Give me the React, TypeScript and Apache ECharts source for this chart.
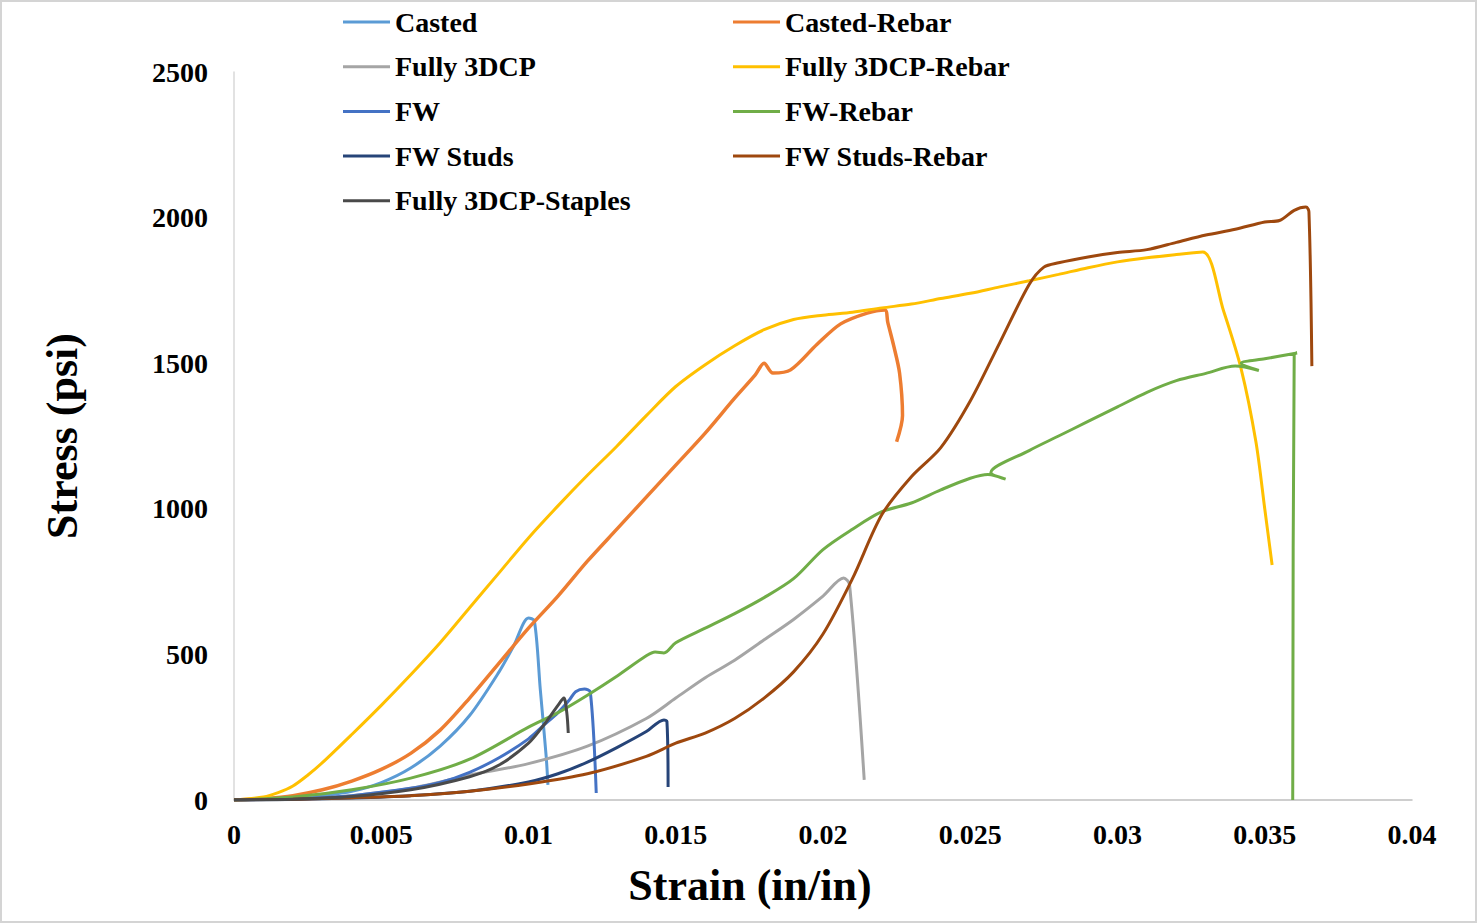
import React, { useEffect, useRef } from "react";
import * as echarts from "echarts";

const seriesNames = [
  "Casted",
  "Casted-Rebar",
  "Fully 3DCP",
  "Fully 3DCP-Rebar",
  "FW",
  "FW-Rebar",
  "FW Studs",
  "FW Studs-Rebar",
  "Fully 3DCP-Staples",
];

const colors = ["#5B9BD5", "#ED7D31", "#A5A5A5", "#FFC000", "#4472C4", "#70AD47", "#264478", "#9E480E", "#4A4A4A"];

const xTicks = [0, 0.005, 0.01, 0.015, 0.02, 0.025, 0.03, 0.035, 0.04];
const yTicks = [0, 500, 1000, 1500, 2000, 2500];

const casted = [
  [0, 0], [0.002, 5], [0.003, 15], [0.004, 30], [0.005, 60], [0.006, 110], [0.007, 185],
  [0.008, 290], [0.009, 440], [0.0095, 530], [0.01, 625], [0.0102, 615], [0.0104, 380],
  [0.0106, 150], [0.01066, 52],
];

const castedRebar = [
  [0, 0], [0.001, 5], [0.002, 15], [0.003, 35], [0.004, 65], [0.005, 105], [0.006, 160],
  [0.007, 240], [0.008, 350], [0.009, 470], [0.01, 590], [0.011, 700], [0.012, 820],
  [0.013, 930], [0.014, 1040], [0.015, 1150], [0.016, 1260], [0.017, 1380], [0.0177, 1460],
  [0.018, 1500], [0.0183, 1466], [0.0189, 1477], [0.0198, 1565], [0.0206, 1635],
  [0.0215, 1672], [0.0221, 1683], [0.0222, 1640], [0.0224, 1560], [0.0226, 1466],
  [0.0227, 1320], [0.0225, 1230],
];

const fully3dcp = [
  [0, 0], [0.002, 3], [0.004, 15], [0.006, 40], [0.008, 85], [0.01, 125], [0.012, 185],
  [0.014, 280], [0.015, 350], [0.016, 420], [0.017, 480], [0.018, 550], [0.019, 620],
  [0.02, 700], [0.0207, 762], [0.0209, 740], [0.0214, 69],
];

const fully3dcpRebar = [
  [0, 0], [0.001, 10], [0.0015, 25], [0.002, 48], [0.0025, 85], [0.003, 128], [0.004, 225],
  [0.005, 325], [0.006, 430], [0.007, 540], [0.008, 660], [0.009, 780], [0.01, 900],
  [0.011, 1010], [0.012, 1115], [0.013, 1215], [0.014, 1320], [0.015, 1420], [0.016, 1495],
  [0.017, 1560], [0.018, 1615], [0.019, 1650], [0.02, 1665], [0.021, 1675], [0.022, 1690],
  [0.023, 1703], [0.024, 1722], [0.025, 1740], [0.026, 1762], [0.027, 1783], [0.028, 1805],
  [0.029, 1828], [0.03, 1848], [0.031, 1862], [0.032, 1873], [0.0329, 1882], [0.0336, 1680],
  [0.0342, 1480], [0.0347, 1230], [0.035, 1000], [0.03525, 807],
];

const fw = [
  [0, 0], [0.002, 4], [0.004, 15], [0.006, 40], [0.007, 60], [0.008, 95], [0.009, 145],
  [0.01, 210], [0.0105, 255], [0.011, 300], [0.0114, 345], [0.0116, 372], [0.0119, 381],
  [0.0121, 370], [0.0123, 24],
];

const fwRebar = [
  [0, 0], [0.002, 10], [0.004, 35], [0.006, 75], [0.008, 140], [0.01, 250], [0.011, 300],
  [0.012, 360], [0.013, 425], [0.014, 495], [0.0143, 508], [0.0146, 505], [0.015, 540],
  [0.016, 590], [0.017, 640], [0.018, 695], [0.019, 760], [0.02, 860], [0.021, 930],
  [0.022, 990], [0.023, 1020], [0.024, 1065], [0.025, 1105], [0.0256, 1118], [0.0262, 1102],
  [0.0257, 1125], [0.027, 1200], [0.028, 1250], [0.029, 1300], [0.03, 1350], [0.031, 1400],
  [0.032, 1440], [0.033, 1465], [0.034, 1490], [0.0348, 1475], [0.0342, 1500],
  [0.035, 1515], [0.0361, 1535], [0.036, 1530], [0.03595, 0],
];

const fwStuds = [
  [0, 0], [0.002, 2], [0.004, 7], [0.006, 15], [0.008, 30], [0.01, 62], [0.011, 90],
  [0.012, 130], [0.013, 180], [0.014, 235], [0.0146, 275], [0.0147, 270], [0.01474, 45],
];

const fwStudsRebar = [
  [0, 0], [0.002, 3], [0.004, 8], [0.006, 15], [0.008, 30], [0.01, 55], [0.012, 90],
  [0.014, 150], [0.015, 195], [0.016, 230], [0.017, 280], [0.018, 350], [0.019, 440],
  [0.02, 570], [0.021, 760], [0.022, 980], [0.023, 1110], [0.024, 1210], [0.025, 1370],
  [0.026, 1570], [0.027, 1770], [0.0275, 1830], [0.028, 1845], [0.029, 1865], [0.03, 1880],
  [0.031, 1890], [0.032, 1915], [0.033, 1940], [0.034, 1960], [0.035, 1985], [0.0355, 1990],
  [0.036, 2025], [0.0364, 2036], [0.0365, 2020], [0.0366, 1490],
];

const fully3dcpStaples = [
  [0, 0], [0.002, 3], [0.004, 12], [0.006, 35], [0.008, 80], [0.009, 120], [0.01, 195],
  [0.0105, 255], [0.011, 325], [0.0112, 350], [0.0113, 300], [0.01135, 230],
];

const seriesData = [
  casted, castedRebar, fully3dcp, fully3dcpRebar, fw, fwRebar, fwStuds, fwStudsRebar, fully3dcpStaples,
];

const FONT = "'Liberation Serif', 'Times New Roman', serif";

export default function App() {
  const ref = useRef<HTMLDivElement>(null);

  useEffect(() => {
    if (!ref.current) return;
    const chart = echarts.init(ref.current, undefined, { renderer: "svg" });
    const legendText = {
      fontFamily: FONT,
      fontWeight: "bold" as const,
      fontSize: 28,
      color: "#000",
      lineHeight: 30,
    };
    const legendBase = {
      orient: "vertical",
      top: 7,
      padding: 0,
      itemGap: 14.7,
      itemWidth: 47,
      itemHeight: 3,
      icon: "rect",
      textStyle: legendText,
    };
    chart.setOption({
      animation: false,
      backgroundColor: "#fff",
      color: colors,
      legend: [
        {
          ...legendBase,
          left: 343,
          data: [seriesNames[0], seriesNames[2], seriesNames[4], seriesNames[6], seriesNames[8]],
        },
        {
          ...legendBase,
          left: 733,
          data: [seriesNames[1], seriesNames[3], seriesNames[5], seriesNames[7]],
        },
      ],
      grid: { left: 234, right: 65, top: 72, bottom: 123 },
      xAxis: {
        type: "value",
        min: xTicks[0],
        max: xTicks[xTicks.length - 1],
        interval: xTicks[1] - xTicks[0],
        axisLine: { show: true, lineStyle: { color: "#bfbfbf", width: 1.5 } },
        axisTick: { show: false },
        splitLine: { show: false },
        axisLabel: {
          margin: 20,
          fontFamily: FONT,
          fontWeight: "bold",
          fontSize: 28,
          color: "#000",
          formatter: (v: number) => String(parseFloat(v.toFixed(3))),
        },
      },
      yAxis: {
        type: "value",
        min: yTicks[0],
        max: yTicks[yTicks.length - 1],
        interval: yTicks[1] - yTicks[0],
        name: "Stress (psi)",
        nameLocation: "middle",
        nameGap: 150,
        nameTextStyle: { fontFamily: FONT, fontWeight: "bold", fontSize: 44, color: "#000" },
        axisLine: { show: true, lineStyle: { color: "#d9d9d9", width: 1.5 } },
        axisTick: { show: false },
        splitLine: { show: false },
        axisLabel: {
          margin: 26,
          fontFamily: FONT,
          fontWeight: "bold",
          fontSize: 28,
          color: "#000",
          formatter: (v: number) => String(v),
        },
      },
      graphic: [
        {
          type: "rect",
          shape: { x: 1, y: 1, width: 1475, height: 921 },
          style: { fill: "none", stroke: "#d4d4d4", lineWidth: 2 },
          silent: true,
        },
        {
          type: "text",
          x: 750,
          y: 885,
          style: {
            text: "Strain (in/in)",
            fontFamily: FONT,
            fontWeight: "bold",
            fontSize: 44,
            fill: "#000",
            align: "center",
            verticalAlign: "middle",
          },
        },
      ],
      series: seriesNames.map((name, i) => ({
        name,
        type: "line",
        data: seriesData[i],
        symbol: "none",
        showSymbol: false,
        smooth: 0.3,
        lineStyle: { width: name === "Casted-Rebar" ? 3.5 : 3, color: colors[i] },
        itemStyle: { color: colors[i] },
      })),
    });
    return () => chart.dispose();
  }, []);

  return (
    <div
      ref={ref}
      style={{ position: "fixed", left: 0, top: 0, width: 1477, height: 923, background: "#fff" }}
    />
  );
}
